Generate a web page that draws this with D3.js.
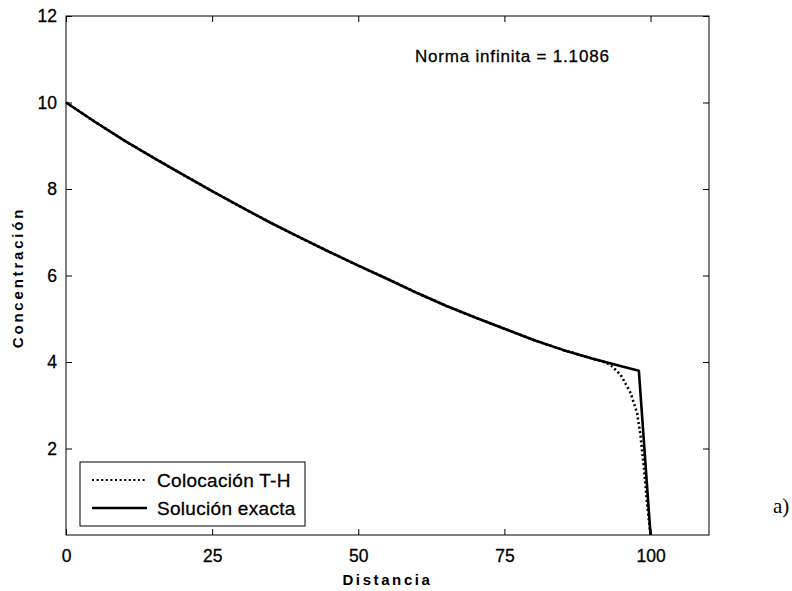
<!DOCTYPE html>
<html>
<head>
<meta charset="utf-8">
<script src="https://cdn.jsdelivr.net/npm/d3@7"></script>
<style>
  body { margin: 0; background: #fff; }
  svg text { font-family: "Liberation Sans", Arial, sans-serif; fill: #000; }
</style>
</head>
<body>
<div id="chart"></div>
<script>

// valores
var distancia = [0, 5, 10, 15, 20, 25, 30, 35, 40, 45, 50, 55, 60, 65, 70, 75, 80, 85, 90, 95, 98, 100];
var solucionExacta = [10, 9.55, 9.12, 8.72, 8.33, 7.95, 7.58, 7.22, 6.88, 6.55, 6.23, 5.92, 5.60, 5.30, 5.03, 4.77, 4.51, 4.28, 4.08, 3.90, 3.80, 0];

var distanciaTH = [0, 5, 10, 15, 20, 25, 30, 35, 40, 45, 50, 55, 60, 65, 70, 75, 80, 85, 90, 92, 93.2, 94.9, 96.6, 97.7, 98.3, 98.9, 99.4, 100];
var colocacionTH = [10, 9.55, 9.12, 8.72, 8.33, 7.95, 7.58, 7.22, 6.88, 6.55, 6.23, 5.92, 5.60, 5.30, 5.03, 4.77, 4.51, 4.28, 4.08, 4.00, 3.93, 3.70, 3.28, 2.82, 2.28, 1.51, 0.74, 0];

var xTicks = [0, 25, 50, 75, 100];
var yTicks = [2, 4, 6, 8, 10, 12];
var leyenda = ["Colocación T-H", "Solución exacta"];

var W = 792, H = 591;
var margin = { top: 16, right: 83, bottom: 56, left: 66 };
var width = W - margin.left - margin.right;
var height = H - margin.top - margin.bottom;

var x = d3.scaleLinear().domain([0, 110]).range([0, width]);
var y = d3.scaleLinear().domain([0, 12]).range([height, 0]);

var svg = d3.select("#chart").append("svg")
  .attr("width", W)
  .attr("height", H);

var g = svg.append("g")
  .attr("transform", "translate(" + margin.left + "," + margin.top + ")");

// caja
g.append("rect")
  .attr("width", width)
  .attr("height", height)
  .attr("fill", "none")
  .attr("stroke", "#000")
  .attr("stroke-width", 1);

// ejes (ticks hacia dentro, como matlab)
var tl = 6;
var xAxis = g.append("g")
  .attr("transform", "translate(0," + height + ")")
  .call(d3.axisBottom(x).tickValues(xTicks).tickSize(-tl).tickPadding(tl + 9));
var xTop = g.append("g")
  .call(d3.axisTop(x).tickValues(xTicks).tickSize(-tl).tickFormat(""));
var yAxis = g.append("g")
  .call(d3.axisLeft(y).tickValues(yTicks).tickSize(-tl).tickPadding(tl + 3));
var yRight = g.append("g")
  .attr("transform", "translate(" + width + ",0)")
  .call(d3.axisRight(y).tickValues(yTicks).tickSize(-tl).tickFormat(""));

[xAxis, xTop, yAxis, yRight].forEach(function(a) {
  a.select(".domain").remove();
  a.selectAll("line").attr("stroke", "#000");
  a.selectAll("text")
    .style("font-size", "17.5px")
    .attr("fill", "#000")
    .attr("stroke", "#000")
    .attr("stroke-width", 0.3);
});

// curvas
var line = d3.line()
  .x(function(d) { return x(d[0]); })
  .y(function(d) { return y(d[1]); });

var exacta = d3.zip(distancia, solucionExacta);
var th = d3.zip(distanciaTH, colocacionTH);

g.append("path")
  .datum(th)
  .attr("d", line)
  .attr("fill", "none")
  .attr("stroke", "#000")
  .attr("stroke-width", 2.6)
  .attr("stroke-dasharray", "2,2.6");

g.append("path")
  .datum(exacta)
  .attr("d", line)
  .attr("fill", "none")
  .attr("stroke", "#000")
  .attr("stroke-width", 2.6)
  .attr("stroke-linejoin", "round");

// anotacion
g.append("text")
  .attr("x", 349)
  .attr("y", 46)
  .style("font-size", "17px")
  .style("letter-spacing", "0.8px")
  .attr("stroke", "#000")
  .attr("stroke-width", 0.3)
  .text("Norma infinita = 1.1086");

// leyenda
var lg = g.append("g").attr("transform", "translate(14," + 446 + ")");
lg.append("rect")
  .attr("width", 225)
  .attr("height", 64)
  .attr("fill", "#fff")
  .attr("stroke", "#000")
  .attr("stroke-width", 1);
lg.append("line")
  .attr("x1", 12).attr("x2", 67).attr("y1", 18).attr("y2", 18)
  .attr("stroke", "#000").attr("stroke-width", 2.2).attr("stroke-dasharray", "2,2.6");
lg.append("line")
  .attr("x1", 12).attr("x2", 67).attr("y1", 46).attr("y2", 46)
  .attr("stroke", "#000").attr("stroke-width", 2.6);
lg.selectAll("text.leg")
  .data(leyenda)
  .enter()
  .append("text")
  .attr("class", "leg")
  .attr("x", 77)
  .attr("y", function(d, i) { return 25 + i * 28; })
  .style("font-size", "19px")
  .style("letter-spacing", "0.3px")
  .attr("stroke", "#000")
  .attr("stroke-width", 0.3)
  .text(function(d) { return d; });

// titulos de ejes
svg.append("text")
  .attr("x", margin.left + width / 2)
  .attr("y", 585)
  .attr("text-anchor", "middle")
  .style("font-size", "15px")
  .style("font-weight", "bold")
  .style("letter-spacing", "2.6px")
  .text("Distancia");

svg.append("text")
  .attr("transform", "translate(23," + (margin.top + height / 2 + 2) + ") rotate(-90)")
  .attr("text-anchor", "middle")
  .style("font-size", "15px")
  .style("font-weight", "bold")
  .style("letter-spacing", "2.8px")
  .text("Concentración");

svg.append("text")
  .attr("x", 773)
  .attr("y", 513)
  .style("font-family", "'Liberation Serif', 'Times New Roman', serif")
  .style("font-size", "21px")
  .text("a)");

</script>
</body>
</html>
